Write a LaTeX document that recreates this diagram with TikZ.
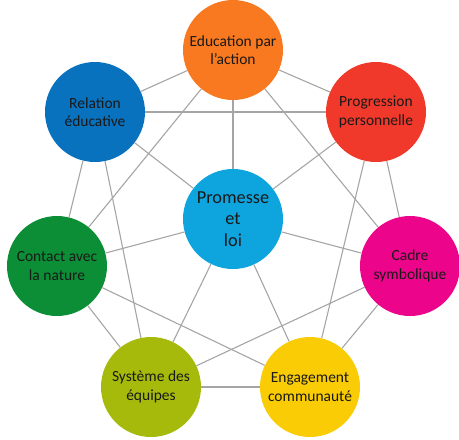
\documentclass[tikz,border=0pt]{standalone}
\usepackage{fontspec}
\setmainfont{Carlito}
\definecolor{cEdu}{RGB}{248,121,32}
\definecolor{cRel}{RGB}{8,114,190}
\definecolor{cProg}{RGB}{240,57,42}
\definecolor{cCad}{RGB}{236,4,138}
\definecolor{cEng}{RGB}{250,204,6}
\definecolor{cSys}{RGB}{166,186,12}
\definecolor{cCon}{RGB}{12,142,54}
\definecolor{cProm}{RGB}{14,164,222}
\definecolor{cLine}{RGB}{165,165,165}
\definecolor{cTxt}{RGB}{25,25,25}
\begin{document}
\begin{tikzpicture}[x=1pt,y=-1pt,
  bubble/.style={circle,minimum size=100pt,inner sep=0pt,align=center,text=cTxt,
    font=\fontsize{15.5}{18.5}\selectfont},
  link/.style={draw=cLine,line width=1.1pt}]
\useasboundingbox (0,0) rectangle (459,440);
\node[bubble,fill=cEdu] (edu) at (233,50) {Education par\\l’action};
\node[bubble,fill=cRel] (rel) at (95,112) {Relation\\éducative};
\node[bubble,fill=cProg] (prog) at (376,112) {Progression\\personnelle};
\node[bubble,fill=cCad] (cad) at (410,266) {Cadre\\symbolique};
\node[bubble,fill=cEng] (eng) at (310,387) {Engagement\\communauté};
\node[bubble,fill=cSys] (sys) at (151,387) {Système des\\équipes};
\node[bubble,fill=cCon] (con) at (57,266) {Contact avec\\la nature};
\node[bubble,fill=cProm,font=\fontsize{18.3}{21.7}\selectfont] (prom) at (233,219) {Promesse\\et\\loi};
% heptagon sides
\foreach \a/\b in {edu/prog,prog/cad,cad/eng,eng/sys,sys/con,con/rel,rel/edu}
  \draw[link] (\a) -- (\b);
% heptagram
\foreach \a/\b in {edu/cad,prog/eng,cad/sys,eng/con,sys/rel,con/edu,rel/prog}
  \draw[link] (\a) -- (\b);
% spokes
\foreach \a in {edu,prog,cad,eng,sys,con,rel}
  \draw[link] (prom) -- (\a);
\end{tikzpicture}
\end{document}
